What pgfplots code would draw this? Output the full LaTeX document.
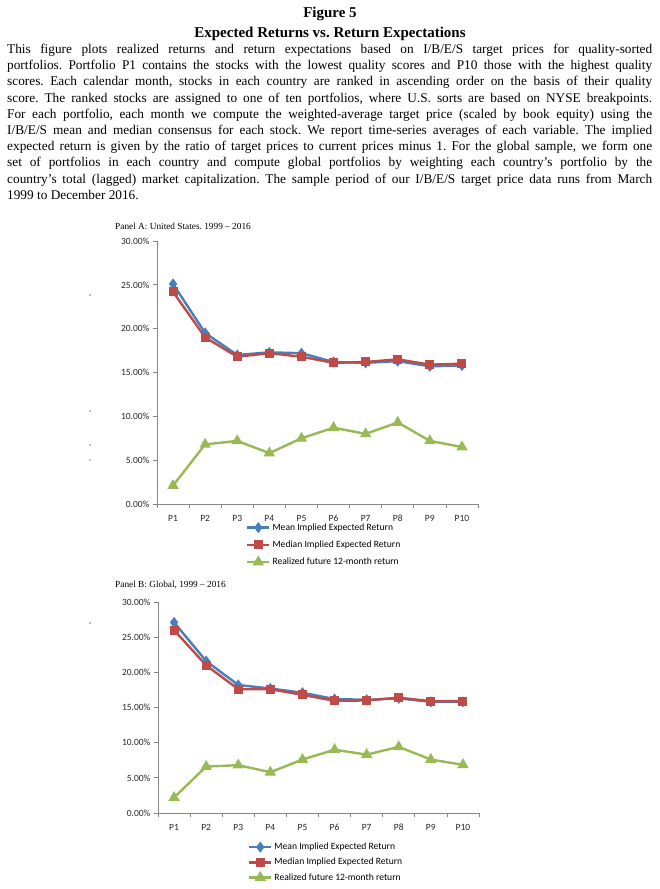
\documentclass[border=0pt]{standalone}
\usepackage{pgfplots}
\usepackage{pgfplotstable}
\pgfplotsset{compat=1.18}
\usepackage{fontspec}
\setmainfont{Liberation Serif}
\newfontfamily\calfont{Carlito}

\definecolor{xblue}{HTML}{4A7EBB}
\definecolor{xred}{HTML}{BE4B48}
\definecolor{xgreen}{HTML}{98B954}
\definecolor{axgray}{HTML}{868686}

% Panel A: United States
\pgfplotstableread{
p mean median real
1 25.1 24.2 2.1
2 19.5 19.0 6.8
3 17.0 16.8 7.2
4 17.3 17.2 5.8
5 17.2 16.8 7.5
6 16.2 16.1 8.7
7 16.1 16.2 8.0
8 16.3 16.5 9.3
9 15.7 15.9 7.2
10 15.8 16.0 6.5
}\usdata

% Panel B: Global
\pgfplotstableread{
p mean median real
1 27.1 26.0 2.2
2 21.6 21.0 6.6
3 18.2 17.6 6.8
4 17.7 17.6 5.8
5 17.1 16.8 7.6
6 16.2 15.95 9.0
7 16.1 16.0 8.3
8 16.3 16.4 9.4
9 15.8 15.9 7.6
10 15.8 15.9 6.85
}\globdata

\pgfplotsset{
  qpanel/.style={
    scale only axis, width=321pt, anchor=south west,
    xmin=0.5, xmax=10.5, ymin=0, ymax=30,
    axis x line=bottom, axis y line=left,
    axis line style={-, draw=axgray, line width=0.8pt},
    xtick={0.5,1.5,...,10.5},
    xticklabels={P1,P2,P3,P4,P5,P6,P7,P8,P9,P10,{}},
    xticklabel style={xshift=16.05pt, yshift=-2.5pt, text height=1.6ex, text depth=0pt},
    ytick={0,5,...,30},
    yticklabels={0.00\%,5.00\%,10.00\%,15.00\%,20.00\%,25.00\%,30.00\%},
    tick align=outside, major tick length=4pt,
    tick style={draw=axgray, line width=0.8pt},
    tick label style={font=\calfont\fontsize{9.5}{11}\selectfont, text=black!85},
    clip=false,
    legend style={anchor=north west, draw=none, fill=none, inner sep=0pt,
      font=\calfont\fontsize{9.6}{11}\selectfont, row sep=5pt},
    legend cell align=left,
    legend image code/.code={\draw[mark repeat=2, mark phase=2, #1]
      plot coordinates {(0pt,0pt) (11pt,0pt) (22pt,0pt)};},
  },
  smean/.style={color=xblue, line width=2.4pt, mark=diamond*, mark size=3.6pt, mark options={solid}},
  smed/.style={color=xred, line width=2.4pt, mark=square*, mark size=3.3pt, mark options={solid}},
  sreal/.style={color=xgreen, line width=2.4pt, mark=triangle*, mark size=4.2pt, mark options={solid}},
}

\begin{document}
\frenchspacing
\begin{tikzpicture}[x=1pt,y=1pt]
\path[use as bounding box] (0,0) rectangle (660,889);

\node[font=\bfseries\fontsize{15}{18}\selectfont] at (330,875) {Figure 5};
\node[font=\bfseries\fontsize{15}{18}\selectfont] at (330,855) {Expected Returns vs. Return Expectations};

\node[anchor=north west, inner sep=0pt, text width=645pt, align=justify,
  font=\fontsize{13.3}{16.2}\selectfont] at (7,845) {%
This figure plots realized returns and return expectations based on I/B/E/S target prices for quality-sorted\linebreak
portfolios. Portfolio P1 contains the stocks with the lowest quality scores and P10 those with the highest quality\linebreak
scores. Each calendar month, stocks in each country are ranked in ascending order on the basis of their quality\linebreak
score. The ranked stocks are assigned to one of ten portfolios, where U.S. sorts are based on NYSE breakpoints.\linebreak
For each portfolio, each month we compute the weighted-average target price (scaled by book equity) using the\linebreak
I/B/E/S mean and median consensus for each stock. We report time-series averages of each variable. The implied\linebreak
expected return is given by the ratio of target prices to current prices minus 1. For the global sample, we form one\linebreak
set of portfolios in each country and compute global portfolios by weighting each country’s portfolio by the\linebreak
country’s total (lagged) market capitalization. The sample period of our I/B/E/S target price data runs from March\linebreak
1999 to December 2016.};

\node[anchor=west, inner sep=0pt, font=\fontsize{9.3}{11}\selectfont] at (115,663) {Panel A: United States. 1999 -- 2016};
\node[anchor=west, inner sep=0pt, font=\fontsize{9.3}{11}\selectfont] at (115,304) {Panel B: Global, 1999 -- 2016};

\foreach \yy in {594,478,444,429,266} {\fill (90,\yy) circle (0.6);}

\begin{axis}[qpanel, at={(157pt,385pt)}, height=263pt,
  legend style={at={(0.277,-0.066)}}]
\addplot[smean] table[x=p, y=mean] {\usdata};
\addlegendentry{Mean Implied Expected Return}
\addplot[smed] table[x=p, y=median] {\usdata};
\addlegendentry{Median Implied Expected Return}
\addplot[sreal] table[x=p, y=real] {\usdata};
\addlegendentry{Realized future 12-month return}
\end{axis}

\begin{axis}[qpanel, at={(158pt,76pt)}, height=211pt,
  legend style={at={(0.28,-0.132)}, row sep=3pt}]
\addplot[smean] table[x=p, y=mean] {\globdata};
\addlegendentry{Mean Implied Expected Return}
\addplot[smed] table[x=p, y=median] {\globdata};
\addlegendentry{Median Implied Expected Return}
\addplot[sreal] table[x=p, y=real] {\globdata};
\addlegendentry{Realized future 12-month return}
\end{axis}
\end{tikzpicture}
\end{document}
